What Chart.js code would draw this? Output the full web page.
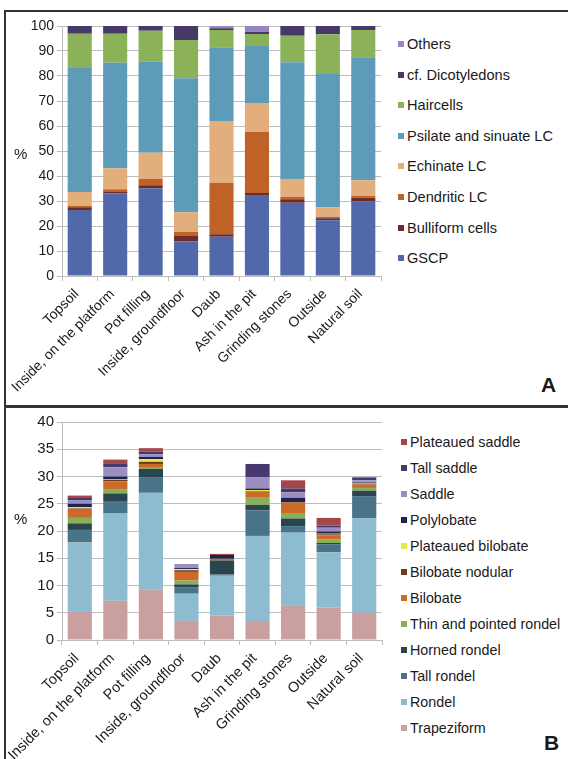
<!DOCTYPE html>
<html>
<head>
<meta charset="utf-8">
<script src="https://cdn.jsdelivr.net/npm/chart.js@4/dist/chart.umd.min.js"></script>
<style>
  html, body { margin: 0; padding: 0; background: #fff; }
  body { width: 568px; height: 759px; overflow: hidden; position: relative;
         font-family: "Liberation Sans", Arial, sans-serif; color: #1a1a1a; }
  .frame { position: absolute; left: 4px; top: 10px; width: 600px; height: 800px;
           border: 2px solid #333; box-sizing: border-box; }
  .divider { position: absolute; left: 4px; top: 405px; width: 600px; height: 3px; background: #333; }
  canvas { position: absolute; }
  .unit { position: absolute; font-size: 15px; line-height: 1; }
  .panel-tag { position: absolute; font-size: 21px; font-weight: bold; line-height: 1; }
  .legend { position: absolute; line-height: 1; }
  .legend .item { position: absolute; white-space: nowrap; }
  .legend .sw { position: absolute; width: 6px; height: 6px; }
</style>
</head>
<body>
<div class="frame"></div>
<div class="divider"></div>

<div class="wrap" style="position:absolute;left:6px;top:13px;width:380px;height:392px">
  <canvas id="chartA"></canvas>
</div>
<div class="wrap" style="position:absolute;left:6px;top:409px;width:380px;height:350px">
  <canvas id="chartB"></canvas>
</div>

<div class="unit" style="left:14px;top:146px">%</div>
<div class="unit" style="left:14px;top:511px">%</div>
<div class="panel-tag" style="left:541px;top:374px">A</div>
<div class="panel-tag" style="left:544px;top:732px">B</div>

<div id="legendA" class="legend" style="font-size:14.6px"></div>
<div id="legendB" class="legend" style="font-size:14.3px"></div>

<script>
// Sample contexts (x-axis categories, shared by both panels)
const contexts = ['Topsoil', 'Inside, on the platform', 'Pot filling', 'Inside, groundfloor',
                  'Daub', 'Ash in the pit', 'Grinding stones', 'Outside', 'Natural soil'];

// Panel A: phytolith morphotype groups, % of total
const gscp        = [26.4, 33.1, 35.1, 13.9, 15.7, 32.1, 29.3, 22.3, 29.9];
const bulliform   = [1.1, 0.5, 1.2, 2.1, 1.0, 1.1, 1.4, 0.8, 1.4];
const dendritic   = [0.5, 1.1, 2.6, 1.6, 20.5, 24.4, 1.0, 0.6, 0.7];
const echinate    = [5.6, 8.4, 10.4, 7.9, 24.8, 11.6, 7.1, 3.8, 6.3];
const psilate     = [49.6, 42.2, 36.4, 53.6, 29.5, 22.8, 46.7, 53.3, 49.2];
const haircells   = [13.7, 11.6, 12.4, 15.3, 6.9, 4.8, 10.6, 15.9, 10.9];
const dicots      = [3.1, 3.1, 1.9, 5.6, 0.7, 0.9, 3.9, 3.3, 1.6];
const others      = [0, 0, 0, 0, 0.9, 2.3, 0, 0, 0];
const ticksA      = [0, 10, 20, 30, 40, 50, 60, 70, 80, 90, 100];

// Panel B: grass short cell types, % of total
const trapeziform       = [5.3, 7.2, 9.3, 3.5, 4.5, 3.5, 6.4, 5.9, 5.0];
const rondel            = [12.6, 16.0, 17.7, 5.0, 7.3, 15.6, 13.3, 10.2, 17.3];
const tallRondel        = [2.3, 2.3, 2.9, 1.2, 0.2, 4.7, 1.2, 1.4, 4.1];
const hornedRondel      = [1.2, 1.4, 1.5, 0.5, 2.6, 1.0, 1.4, 0.3, 1.0];
const thinPointedRondel = [1.0, 0.8, 0.2, 0.7, 0, 1.3, 1.0, 0.7, 0.5];
const bilobate          = [1.7, 1.4, 0.7, 1.6, 0.3, 1.1, 1.9, 0.7, 0.6];
const bilobateNodular   = [0.1, 0.3, 0.4, 0.3, 0, 0.1, 0.1, 0.2, 0.1];
const plateauedBilobate = [0.2, 0.1, 0.5, 0.2, 0, 0.2, 0, 0.1, 0.1];
const polylobate        = [0.6, 0.5, 0.4, 0.2, 0.7, 0.3, 0.8, 0.4, 0.2];
const saddle            = [0.6, 1.7, 0.5, 0.6, 0, 2.1, 1.0, 0.7, 0.4];
const tallSaddle        = [0.6, 0.6, 0.5, 0.1, 0, 2.4, 0.7, 0.4, 0.5];
const plateauedSaddle   = [0.3, 0.8, 0.6, 0, 0.2, 0, 1.5, 1.4, 0.1];
const ticksB            = [0, 5, 10, 15, 20, 25, 30, 35, 40];

// Series definitions, bottom of the stack first
const seriesA = [
  ['GSCP', gscp, '#5169AA'],
  ['Bulliform cells', bulliform, '#6E2B2B'],
  ['Dendritic LC', dendritic, '#BF6228'],
  ['Echinate LC', echinate, '#E2AE7B'],
  ['Psilate and sinuate LC', psilate, '#5E9BB8'],
  ['Haircells', haircells, '#8BB159'],
  ['cf. Dicotyledons', dicots, '#463968'],
  ['Others', others, '#9887BF']
];
const seriesB = [
  ['Trapeziform', trapeziform, '#C99FA0'],
  ['Rondel', rondel, '#8DBBCF'],
  ['Tall rondel', tallRondel, '#487388'],
  ['Horned rondel', hornedRondel, '#2A4450'],
  ['Thin and pointed rondel', thinPointedRondel, '#88B057'],
  ['Bilobate', bilobate, '#CC6B29'],
  ['Bilobate nodular', bilobateNodular, '#6E3A1A'],
  ['Plateaued bilobate', plateauedBilobate, '#E8E84A'],
  ['Polylobate', polylobate, '#1C2449'],
  ['Saddle', saddle, '#9C8EC2'],
  ['Tall saddle', tallSaddle, '#47396F'],
  ['Plateaued saddle', plateauedSaddle, '#A3474A']
];

const FAMILY = '"Liberation Sans", Arial, sans-serif';
const GRID = '#BDBDBD';

function makeChart(id, series, yTicks, canvasH, plotBottom, rightPad, yFont, xFont) {
  const yMax = yTicks[yTicks.length - 1];
  const step = yTicks[1] - yTicks[0];
  return new Chart(document.getElementById(id), {
    type: 'bar',
    data: {
      labels: contexts,
      datasets: series.map(([label, data, color]) => ({
        label, data, backgroundColor: color, borderWidth: 0,
        barPercentage: 0.68, categoryPercentage: 1
      }))
    },
    options: {
      responsive: true,
      maintainAspectRatio: false,
      animation: false,
      devicePixelRatio: 1,
      layout: { padding: { top: 13, left: 0, right: rightPad, bottom: 0 } },
      plugins: { legend: { display: false }, tooltip: { enabled: false } },
      scales: {
        x: {
          stacked: true,
          offset: true,
          grid: { display: true, drawOnChartArea: false, offset: true, tickLength: 5, color: GRID, lineWidth: 1 },
          border: { color: GRID, width: 1 },
          ticks: { font: { family: FAMILY, size: xFont }, color: '#1a1a1a', maxRotation: 45, minRotation: 45,
                   padding: 5, labelOffset: -3, autoSkip: false },
          afterFit: (s) => { s.height = canvasH - plotBottom; }
        },
        y: {
          stacked: true,
          min: 0, max: yMax,
          grid: { color: GRID, lineWidth: 1, tickLength: 5 },
          border: { color: GRID, width: 1 },
          ticks: { font: { family: FAMILY, size: yFont }, color: '#1a1a1a', stepSize: step, padding: 3 },
          afterFit: (s) => { s.width = 56; }
        }
      }
    }
  });
}

makeChart('chartA', seriesA, ticksA, 392, 263, 5, 14, 14);
makeChart('chartB', seriesB, ticksB, 350, 231, 4, 15, 14.5);

// Legends list the top of the stack first
function buildLegend(elId, series, left, top, gap) {
  const el = document.getElementById(elId);
  el.style.left = left + 'px';
  el.style.top = top + 'px';
  series.slice().reverse().forEach(([label, , color], i) => {
    const sw = document.createElement('div');
    sw.className = 'sw';
    sw.style.background = color;
    sw.style.left = '0px';
    sw.style.top = (i * gap - 3) + 'px';
    el.appendChild(sw);
    const t = document.createElement('div');
    t.className = 'item';
    t.textContent = label;
    t.style.left = '9px';
    t.style.top = (i * gap - 7) + 'px';
    el.appendChild(t);
  });
}
buildLegend('legendA', seriesA, 398, 44, 30.6);
buildLegend('legendB', seriesB, 401, 442, 26);
</script>
</body>
</html>
